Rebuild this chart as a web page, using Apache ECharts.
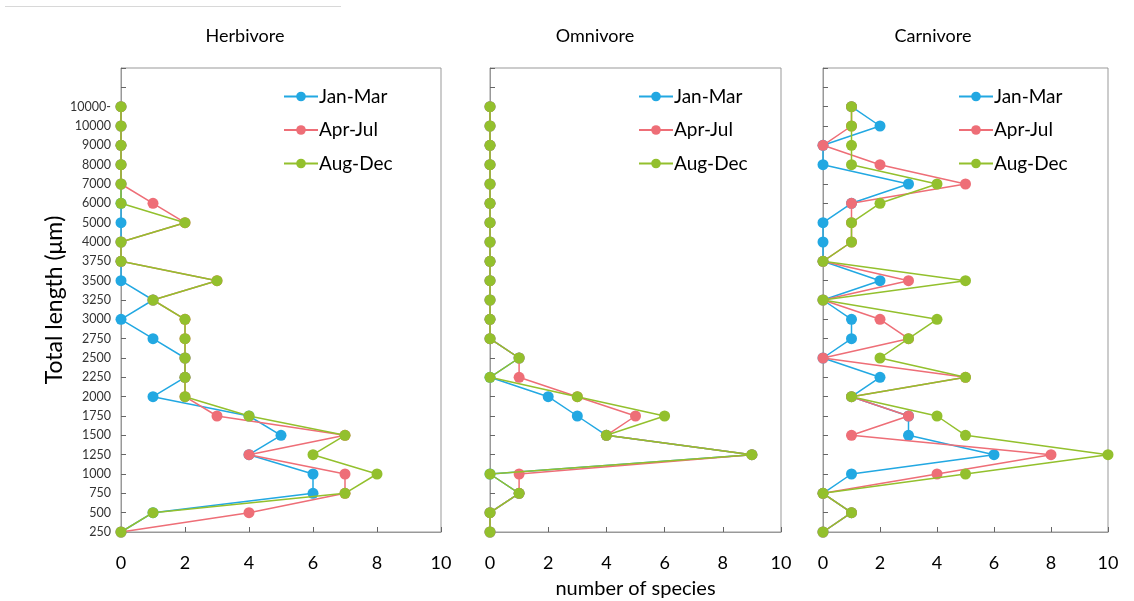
<!DOCTYPE html>
<html>
<head>
<meta charset="utf-8">
<script src="https://cdn.jsdelivr.net/npm/echarts@6/dist/echarts.min.js"></script>
<style>
  html, body { margin: 0; padding: 0; background: #fff; }
  #chart { width: 1134px; height: 601px; }
</style>
</head>
<body>
<div id="chart"></div>
<script>
// Size classes of total length, bottom to top
const lengthClasses = ['250','500','750','1000','1250','1500','1750','2000','2250','2500','2750','3000','3250','3500','3750','4000','5000','6000','7000','8000','9000','10000','10000-'];
const seasons = ['Jan-Mar', 'Apr-Jul', 'Aug-Dec'];
const panels = ['Herbivore', 'Omnivore', 'Carnivore'];
const xTicks = [0, 2, 4, 6, 8, 10];

// Number of species per size class (same order as lengthClasses)
const herbJanMar = [0,1,6,6,4,5,4,1,2,2,1,0,1,0,0,0,0,0,0,0,0,0,0];
const herbAprJul = [0,4,7,7,4,7,3,2,2,2,2,2,1,3,0,0,2,1,0,0,0,0,0];
const herbAugDec = [0,1,7,8,6,7,4,2,2,2,2,2,1,3,0,0,2,0,0,0,0,0,0];

const omniJanMar = [0,0,1,0,9,4,3,2,0,1,0,0,0,0,0,0,0,0,0,0,0,0,0];
const omniAprJul = [0,0,1,1,9,4,5,3,1,1,0,0,0,0,0,0,0,0,0,0,0,0,0];
const omniAugDec = [0,0,1,0,9,4,6,3,0,1,0,0,0,0,0,0,0,0,0,0,0,0,0];

const carnJanMar = [0,1,0,1,6,3,3,1,2,0,1,1,0,2,0,0,0,1,3,0,0,2,1];
const carnAprJul = [0,1,0,4,8,1,3,1,5,0,3,2,0,3,0,1,1,1,5,2,0,1,1];
const carnAugDec = [0,1,0,5,10,5,4,1,5,2,3,4,0,5,0,1,1,2,4,1,1,1,1];

const seasonColors = ['#22a8e2', '#ee6e77', '#93c02d'];
const panelData = [
  [herbJanMar, herbAprJul, herbAugDec],
  [omniJanMar, omniAprJul, omniAugDec],
  [carnJanMar, carnAprJul, carnAugDec]
];

// Two empty slots above the last class leave headroom under the frame
const yCats = lengthClasses.concat([' ', '  ']);

const grids = [
  { left: 121, top: 68, width: 320, height: 464 },
  { left: 490, top: 68, width: 291, height: 464 },
  { left: 823, top: 68, width: 285, height: 464 }
];
const titleX = [240, 590, 928];
const legendX = [278, 633, 953];

const font = 'Lato, "Open Sans", sans-serif';

const option = {
  backgroundColor: '#fff',
  animation: false,
  textStyle: { fontFamily: font },
  title: panels.map((p, i) => ({
    text: p,
    left: titleX[i],
    top: 22,
    textAlign: 'center',
    textStyle: { fontSize: 18, fontWeight: 'normal', color: '#000', fontFamily: font }
  })),
  legend: panels.map((p, i) => ({
    data: seasons,
    orient: 'vertical',
    left: legendX[i],
    top: 82,
    itemWidth: 34,
    itemHeight: 12,
    itemGap: 14.5,
    textStyle: { fontSize: 19, color: '#000', fontFamily: font, padding: [0, 0, 0, -4] },
    selectedMode: false
  })),
  // fixed plot boxes: keep the layout from shrinking a grid to fit axis names
  grid: grids.map(g => Object.assign({
    show: true, borderColor: '#999', borderWidth: 1,
    containLabel: false, outerBoundsMode: 'none'
  }, g)),
  xAxis: grids.map((g, i) => ({
    type: 'value',
    gridIndex: i,
    min: 0,
    max: 10,
    interval: 2,
    axisLine: { show: true, lineStyle: { color: '#999' } },
    axisTick: { show: true, inside: true, length: 5, lineStyle: { color: '#666' } },
    splitLine: { show: false },
    axisLabel: { fontSize: 18, color: '#000', margin: 22, fontFamily: font,
      formatter: v => xTicks.indexOf(v) >= 0 ? String(v) : '' },
    name: i === 1 ? 'number of species' : '',
    nameLocation: 'middle',
    nameGap: 47,
    nameTextStyle: { fontSize: 20, color: '#000', fontFamily: font }
  })),
  yAxis: grids.map((g, i) => ({
    type: 'category',
    gridIndex: i,
    data: yCats,
    boundaryGap: false,
    axisLine: { show: true, lineStyle: { color: '#999' } },
    axisTick: { show: true, inside: true, length: 5, interval: 0, lineStyle: { color: '#666' } },
    splitLine: { show: false },
    axisLabel: { show: i === 0, interval: 0, fontSize: 12.5, color: '#333', margin: 10, fontFamily: font },
    name: i === 0 ? 'Total length (μm)' : '',
    nameLocation: 'middle',
    nameRotate: 90,
    nameGap: 53,
    nameTextStyle: { fontSize: 23, color: '#000', fontFamily: font }
  })),
  series: [],
  graphic: [{
    type: 'line',
    shape: { x1: 5, y1: 6.5, x2: 341, y2: 6.5 },
    style: { stroke: '#d8d8d8', lineWidth: 1 }
  }]
};

panelData.forEach((sets, p) => {
  sets.forEach((vals, s) => {
    option.series.push({
      name: seasons[s],
      type: 'line',
      xAxisIndex: p,
      yAxisIndex: p,
      encode: { x: 0, y: 1 },
      data: vals.map((v, k) => [v, lengthClasses[k]]),
      symbol: 'circle',
      symbolSize: 11,
      color: seasonColors[s],
      lineStyle: { width: 1.5, color: seasonColors[s] },
      itemStyle: { color: seasonColors[s] },
      z: 2 + s
    });
  });
});

const chart = echarts.init(document.getElementById('chart'), null, { renderer: 'canvas' });
chart.setOption(option);
</script>
</body>
</html>
